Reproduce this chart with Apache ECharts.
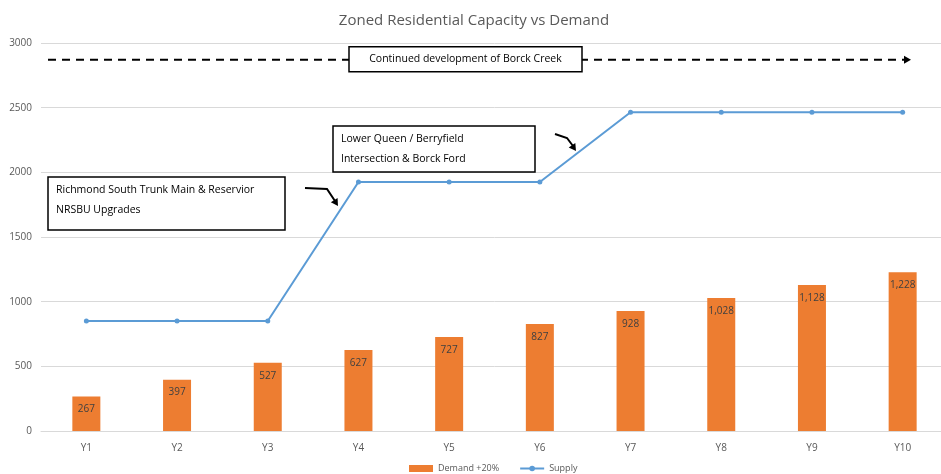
<!DOCTYPE html>
<html>
<head>
<meta charset="utf-8">
<script src="https://cdn.jsdelivr.net/npm/echarts@6/dist/echarts.min.js"></script>
<style>
  html, body { margin: 0; padding: 0; background: #fff; overflow: hidden; }
  /* the plot area runs slightly past the right edge of the window */
  #chart { width: 948px; height: 474px; }
</style>
</head>
<body>
<div id="chart"></div>
<script>
// Years on the horizontal axis
const years = ['Y1', 'Y2', 'Y3', 'Y4', 'Y5', 'Y6', 'Y7', 'Y8', 'Y9', 'Y10'];
// Residential demand including the 20% allowance
const demand = [267, 397, 527, 627, 727, 827, 928, 1028, 1128, 1228];
// Zoned residential supply (capacity)
const supply = [850, 850, 850, 1925, 1925, 1925, 2465, 2465, 2465, 2465];
// Level of the ongoing Borck Creek development indicator
const borckCreekLevel = 2870;
// Infrastructure notes
const notes = {
  borck: 'Continued development of Borck Creek',
  richmond: ['Richmond South Trunk Main & Reservior', 'NRSBU Upgrades'],
  lowerQueen: ['Lower Queen / Berryfield', 'Intersection & Borck Ford']
};

const FONT = '"Open Sans", "Noto Sans", sans-serif';
const NOTE_SIZE = 10.5;
const chart = echarts.init(document.getElementById('chart'));

chart.setOption({
  animation: false,
  backgroundColor: '#ffffff',
  textStyle: { fontFamily: FONT },
  title: {
    text: 'Zoned Residential Capacity vs Demand',
    left: 'center',
    top: 8,
    textStyle: { fontFamily: FONT, fontSize: 15, fontWeight: 'normal', color: '#595959' }
  },
  legend: {
    bottom: -4,
    left: 404,
    itemGap: 20,
    itemWidth: 24,
    itemHeight: 7,
    textStyle: { fontFamily: FONT, fontSize: 9, color: '#595959' },
    data: [
      { name: 'Demand +20%', icon: 'rect' },
      { name: 'Supply' }
    ]
  },
  grid: { left: 41, top: 43, right: 0, height: 388, containLabel: false },
  xAxis: {
    type: 'category',
    data: years,
    axisLine: { lineStyle: { color: '#D9D9D9' } },
    axisTick: { show: false },
    axisLabel: { fontFamily: FONT, fontSize: 10, color: '#595959', margin: 12 }
  },
  yAxis: {
    type: 'value',
    min: 0,
    max: 3000,
    interval: 500,
    axisLine: { show: false },
    axisTick: { show: false },
    axisLabel: { fontFamily: FONT, fontSize: 10, color: '#595959', margin: 9, formatter: v => String(v) },
    splitLine: { lineStyle: { color: '#D9D9D9' } }
  },
  series: [
    {
      name: 'Demand +20%',
      type: 'bar',
      data: demand,
      barWidth: 28,
      itemStyle: { color: '#ED7D31' },
      label: {
        show: true,
        position: 'insideTop',
        distance: 8,
        fontFamily: FONT,
        fontSize: 10,
        color: '#404040',
        formatter: p => p.value.toLocaleString('en-US')
      },
      z: 2
    },
    {
      name: 'Supply',
      type: 'line',
      data: supply,
      symbol: 'circle',
      symbolSize: 5,
      lineStyle: { color: '#5B9BD5', width: 2 },
      itemStyle: { color: '#5B9BD5' },
      z: 3
    }
  ]
});

// Arrowhead triangle pointing along the segment (x0,y0)->(x1,y1)
function arrowHead(x0, y0, x1, y1, len, half) {
  const a = Math.atan2(y1 - y0, x1 - x0);
  const bx = x1 - len * Math.cos(a), by = y1 - len * Math.sin(a);
  const nx = -Math.sin(a) * half, ny = Math.cos(a) * half;
  return {
    type: 'polygon',
    shape: { points: [[x1, y1], [bx + nx, by + ny], [bx - nx, by - ny]] },
    style: { fill: '#000' },
    z: 20
  };
}

function noteBox(x, y, w, h, lines, lineGap) {
  return [
    {
      type: 'rect',
      shape: { x: x, y: y, width: w, height: h },
      style: { fill: '#fff', stroke: '#000', lineWidth: 1.5 },
      z: 20
    },
    ...lines.map((t, i) => ({
      type: 'text',
      x: x + 8,
      y: y + 8 + i * lineGap,
      style: { text: t, fontFamily: FONT, fontSize: NOTE_SIZE, fill: '#000' },
      z: 21
    }))
  ];
}

const yB = chart.convertToPixel({ yAxisIndex: 0 }, borckCreekLevel);
const graphics = [
  // dashed arrow showing ongoing Borck Creek development
  {
    type: 'line',
    shape: { x1: 48, y1: yB, x2: 904, y2: yB },
    style: { stroke: '#000', lineWidth: 2, lineDash: [8, 6] },
    z: 19
  },
  arrowHead(890, yB, 911, yB, 7, 4),
  {
    type: 'rect',
    shape: { x: 349, y: yB - 13, width: 233, height: 25 },
    style: { fill: '#fff', stroke: '#000', lineWidth: 1.5 },
    z: 20
  },
  {
    type: 'text',
    x: 465.5,
    y: yB - 0.5,
    style: { text: notes.borck, fontFamily: FONT, fontSize: NOTE_SIZE, fill: '#000', align: 'center', verticalAlign: 'middle' },
    z: 21
  },
  ...noteBox(48, 177, 237, 53, notes.richmond, 20),
  ...noteBox(333, 126, 202, 46, notes.lowerQueen, 20),
  // bent pointer arrows
  {
    type: 'polyline',
    shape: { points: [[305, 188], [327, 189], [335, 201]] },
    style: { stroke: '#000', lineWidth: 2, fill: null },
    z: 20
  },
  arrowHead(327, 189, 338, 206, 7, 4),
  {
    type: 'polyline',
    shape: { points: [[555, 134], [567, 138], [573, 146]] },
    style: { stroke: '#000', lineWidth: 2, fill: null },
    z: 20
  },
  arrowHead(567, 138, 576, 151, 7, 4)
];
chart.setOption({ graphic: graphics });
</script>
</body>
</html>
